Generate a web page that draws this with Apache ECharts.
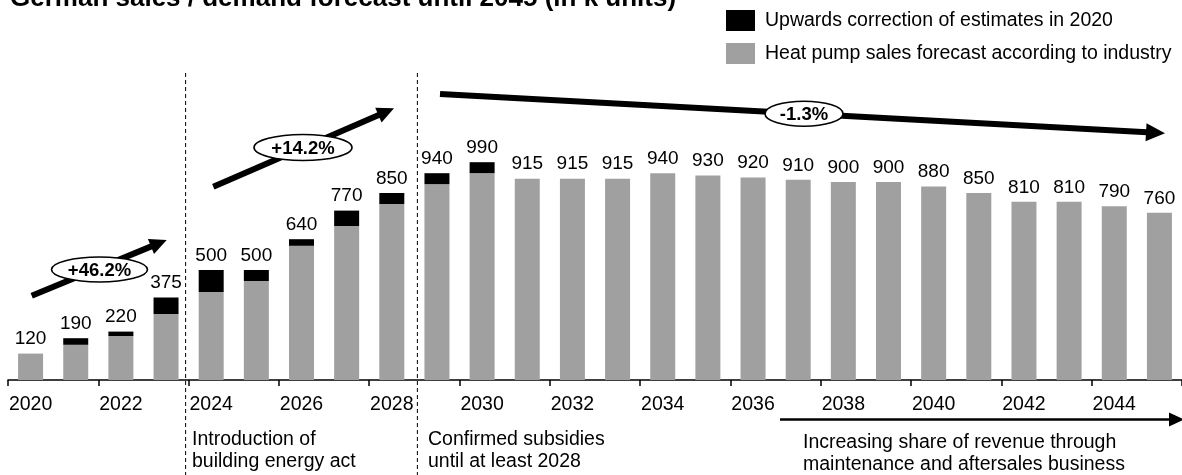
<!DOCTYPE html>
<html>
<head>
<meta charset="utf-8">
<script src="https://cdn.jsdelivr.net/npm/echarts@6/dist/echarts.min.js"></script>
<style>
  html, body { margin: 0; padding: 0; background: #fff; }
  #chart { width: 1182px; height: 475px; }
</style>
</head>
<body>
<div id="chart"></div>
<script>
// Years on the category axis
const years = ['2020','2021','2022','2023','2024','2025','2026','2027','2028','2029','2030','2031','2032',
               '2033','2034','2035','2036','2037','2038','2039','2040','2041','2042','2043','2044','2045'];
// Total sales / demand per year (k units), as printed above each bar
const totals = [120, 190, 220, 375, 500, 500, 640, 770, 850, 940, 990, 915, 915,
                915, 940, 930, 920, 910, 900, 900, 880, 850, 810, 810, 790, 760];
// Upwards correction of the 2020 estimates (black segment on top)
const corrections = [0, 30, 20, 75, 100, 50, 30, 70, 50, 50, 50, 0, 0,
                     0, 0, 0, 0, 0, 0, 0, 0, 0, 0, 0, 0, 0];
// Industry forecast = total minus correction (grey segment)
const forecast = totals.map((t, i) => t - corrections[i]);

const nameCorr = 'Upwards correction of estimates in 2020';
const nameFc = 'Heat pump sales forecast according to industry';

const FONT = '"Liberation Sans", Arial, Helvetica, sans-serif';

const chart = echarts.init(document.getElementById('chart'), null, { renderer: 'canvas' });

chart.setOption({
  animation: false,
  backgroundColor: '#ffffff',
  textStyle: { fontFamily: FONT, color: '#000' },
  legend: {
    orient: 'vertical',
    left: 721,
    top: 5,
    itemWidth: 29,
    itemHeight: 21,
    itemGap: 12,
    icon: 'rect',
    data: [nameCorr, nameFc],
    textStyle: { fontFamily: FONT, fontSize: 19.5, color: '#000', padding: [0, 0, 0, 5] },
    selectedMode: false
  },
  grid: { left: 8, width: 1179, top: 116, bottom: 95, containLabel: false },
  xAxis: {
    type: 'category',
    data: years,
    boundaryGap: true,
    axisLine: { lineStyle: { color: '#000', width: 1.5 } },
    axisTick: { show: true, alignWithLabel: false, length: 6, inside: false, lineStyle: { color: '#000', width: 1.5 } },
    axisLabel: { interval: 1, margin: 15, fontSize: 19.5, color: '#000', fontFamily: FONT }
  },
  yAxis: {
    type: 'value', min: 0, max: 1200, show: false,
    splitLine: { show: false }
  },
  series: [
    {
      name: nameFc,
      type: 'bar',
      stack: 'sales',
      barWidth: 25,
      itemStyle: { color: '#a0a0a0' },
      data: forecast
    },
    {
      name: nameCorr,
      type: 'bar',
      stack: 'sales',
      barWidth: 25,
      itemStyle: { color: '#000000' },
      label: {
        show: true,
        position: 'top',
        distance: 5,
        fontSize: 19,
        fontFamily: FONT,
        color: '#000',
        formatter: p => String(totals[p.dataIndex])
      },
      data: corrections
    }
  ]
});

// ---- annotations: growth arrows, period separators, notes ----
function arrow(id, x1, y1, x2, y2, width, headL, headW) {
  const dx = x2 - x1, dy = y2 - y1;
  const len = Math.sqrt(dx * dx + dy * dy);
  const ux = dx / len, uy = dy / len;
  const bx = x2 - ux * headL, by = y2 - uy * headL;
  const px = -uy, py = ux;
  return [
    { type: 'line', id: id + '-shaft', z: 10, silent: true,
      shape: { x1: x1, y1: y1, x2: bx + ux, y2: by + uy },
      style: { stroke: '#000', lineWidth: width } },
    { type: 'polygon', id: id + '-head', z: 10, silent: true,
      shape: { points: [[x2, y2], [bx + px * headW / 2, by + py * headW / 2], [bx - px * headW / 2, by - py * headW / 2]] },
      style: { fill: '#000' } }
  ];
}

function badge(id, cx, cy, rx, ry, text) {
  return [
    { type: 'ellipse', id: id + '-oval', z: 11, silent: true,
      shape: { cx: cx, cy: cy, rx: rx, ry: ry },
      style: { fill: '#fff', stroke: '#000', lineWidth: 1.6 } },
    { type: 'text', id: id + '-txt', z: 12, silent: true,
      style: { text: text, x: cx, y: cy + 1, textAlign: 'center', textVerticalAlign: 'middle',
               align: 'center', verticalAlign: 'middle',
               font: 'bold 18.5px ' + FONT, fill: '#000' } }
  ];
}

function note(id, x, y, text) {
  return { type: 'text', id: id, z: 12, silent: true,
    style: { text: text, x: x, y: y, textAlign: 'left', textVerticalAlign: 'middle',
             align: 'left', verticalAlign: 'middle', lineHeight: 22,
             font: '19.5px ' + FONT, fill: '#000' } };
}

function boundary(a, b) {
  const xa = chart.convertToPixel({ xAxisIndex: 0 }, a);
  const xb = chart.convertToPixel({ xAxisIndex: 0 }, b);
  return (xa + xb) / 2;
}

const sep1 = boundary('2023', '2024') - 3;
const sep2 = boundary('2028', '2029') + 3;

const graphics = [].concat(
  [{ type: 'text', id: 'title', z: 12, silent: true,
     style: { text: 'German sales / demand forecast until 2045 (in k units)', x: 10, y: -1,
              textAlign: 'left', textVerticalAlign: 'middle', align: 'left', verticalAlign: 'middle',
              font: 'bold 26px ' + FONT, fill: '#000' } }],
  [{ type: 'line', id: 'sep1', z: 5, silent: true,
     shape: { x1: sep1, y1: 73, x2: sep1, y2: 475 },
     style: { stroke: '#000', lineWidth: 1, lineDash: [4, 3] } },
   { type: 'line', id: 'sep2', z: 5, silent: true,
     shape: { x1: sep2, y1: 73, x2: sep2, y2: 475 },
     style: { stroke: '#000', lineWidth: 1, lineDash: [4, 3] } }],
  arrow('a1', 31.7, 295.7, 166.7, 240, 6, 17, 16),
  badge('b1', 99.5, 269.5, 48, 12.5, '+46.2%'),
  arrow('a2', 213.3, 186.7, 394, 108.3, 6, 17, 16),
  badge('b2', 303, 147.5, 49, 13, '+14.2%'),
  arrow('a3', 440, 94, 1165, 133.3, 6, 19, 18),
  badge('b3', 804, 113.7, 39, 12.5, '-1.3%'),
  arrow('a4', 780, 419.5, 1184, 419.5, 2.5, 15, 14),
  [note('n1', 192, 451, 'Introduction of\nbuilding energy act'),
   note('n2', 428, 451, 'Confirmed subsidies\nuntil at least 2028'),
   note('n3', 803, 454, 'Increasing share of revenue through\nmaintenance and aftersales business')]
);

chart.setOption({ graphic: graphics });
</script>
</body>
</html>
